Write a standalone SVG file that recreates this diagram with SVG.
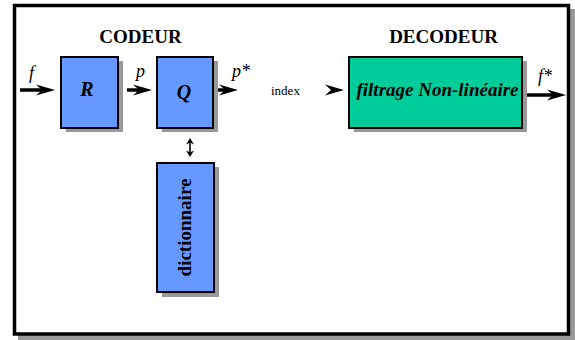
<svg xmlns="http://www.w3.org/2000/svg" width="575" height="340" viewBox="0 0 575 340">
<style>
.shadow{fill:#999999;}
.blue{fill:#6699FF;stroke:#000;stroke-width:2;}
.green{fill:#00CC99;stroke:#000;stroke-width:2;}
.title{font-family:"Liberation Serif",serif;font-weight:bold;font-size:19px;text-anchor:middle;fill:#000;}
.lbl{font-family:"Liberation Serif",serif;font-style:italic;font-size:18px;fill:#000;}
.box{font-family:"Liberation Serif",serif;font-weight:bold;font-style:italic;font-size:19px;text-anchor:middle;fill:#000;}
.big{font-size:20px;}
.head{fill:#000;}
.shaft{stroke:#000;stroke-width:3.5;fill:none;}
</style>
<defs>
<path id="ah" class="head" d="M0,0 L-19,-5.5 L-13,0 L-19,5.5 Z"/>
</defs>
<g id="frame">
<rect x="18" y="9" width="557" height="331" class="shadow"/>
<rect x="14.5" y="5.5" width="554" height="328.5" fill="#fff" stroke="#000" stroke-width="3.5"/>
<text class="title" x="140.5" y="43">CODEUR</text>
<text class="title" x="443.5" y="43">DECODEUR</text>
</g>
<g id="R">
<rect x="66" y="61" width="57" height="71" class="shadow"/>
<rect x="61" y="57" width="57" height="71" class="blue"/>
<text class="box big" x="87" y="96">R</text>
</g>
<g id="Q">
<rect x="162" y="61" width="56" height="71" class="shadow"/>
<rect x="157" y="57" width="56" height="71" class="blue"/>
<text class="box big" x="184" y="99">Q</text>
</g>
<g id="dictionnaire">
<rect x="162" y="167" width="57" height="130" class="shadow"/>
<rect x="157" y="163" width="57" height="129" class="blue"/>
<text font-family="Liberation Serif, serif" font-weight="bold" font-size="19" text-anchor="middle" transform="translate(191,227.5) rotate(-90)">dictionnaire</text>
</g>
<g id="filtrage">
<rect x="354" y="61" width="173" height="71" class="shadow"/>
<rect x="349" y="57" width="173" height="71" class="green"/>
<text class="box" x="437.5" y="96">filtrage Non-linéaire</text>
</g>
<g id="connectors">
<line class="shaft" x1="20" y1="90" x2="44" y2="90"/>
<use href="#ah" transform="translate(55,90)"/>
<text class="lbl" x="29" y="79">f</text>
<line class="shaft" x1="127" y1="90" x2="141" y2="90"/>
<use href="#ah" transform="translate(152,90)"/>
<text class="lbl" x="136" y="77">p</text>
<line class="shaft" x1="218" y1="90" x2="226" y2="90"/>
<use href="#ah" transform="translate(238,90)"/>
<text class="lbl" x="232" y="77">p*</text>
<text x="271" y="95" font-family="Liberation Serif, serif" font-size="13">index</text>
<use href="#ah" transform="translate(344,90)"/>
<line class="shaft" x1="527" y1="95" x2="554" y2="95"/>
<use href="#ah" transform="translate(566,95)"/>
<text class="lbl" x="538" y="82">f*</text>
<line x1="190" y1="141" x2="190" y2="154" stroke="#000" stroke-width="1.6"/>
<path d="M190,138 L186,144.5 L190,142.5 L194,144.5 Z" fill="#000"/>
<path d="M190,157 L186,150.5 L190,152.5 L194,150.5 Z" fill="#000"/>
</g>
</svg>
